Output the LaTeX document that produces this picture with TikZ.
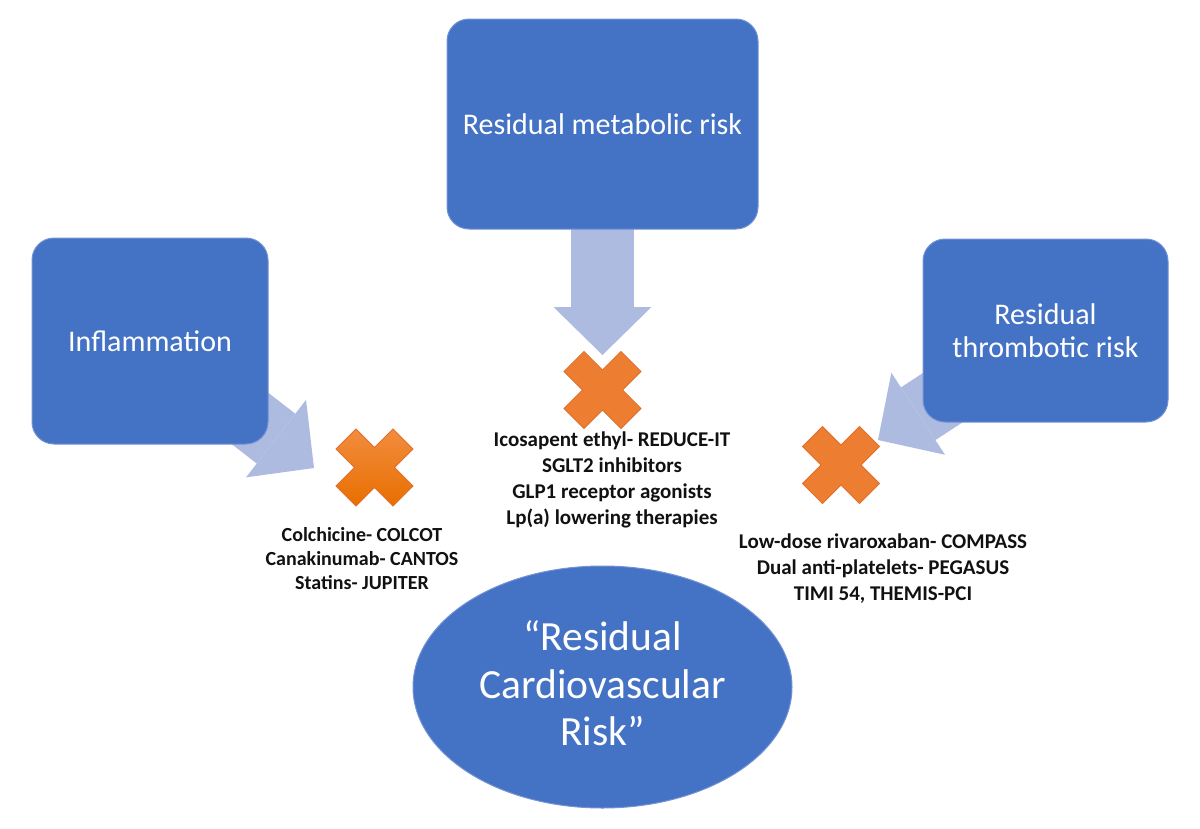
\documentclass[tikz,border=0pt]{standalone}
\usepackage{fontspec}
\setmainfont{Carlito}
\usetikzlibrary{arrows.meta,calc,shapes.geometric,backgrounds}
\definecolor{boxblue}{HTML}{4472C4}
\definecolor{boxedge}{HTML}{7393D3}
\definecolor{arrowlilac}{HTML}{AEBBE1}
\definecolor{crossorange}{HTML}{ED7D31}
\definecolor{crosslight}{HTML}{F28C3E}
\definecolor{crossdark}{HTML}{E86F00}
\definecolor{crossedge}{HTML}{DE7030}
\definecolor{textdark}{HTML}{111111}
\tikzset{
  riskbox/.style={
    rectangle, rounded corners=22pt, fill=boxblue, draw=boxedge, line width=1pt,
    align=center, text=white, font=\fontsize{30}{33}\selectfont
  },
  riskoval/.style={
    ellipse, fill=boxblue, draw=boxedge, line width=1pt, inner sep=0pt,
    minimum width=379pt, minimum height=242pt,
    align=center, text=white, font=\fontsize{41.5}{47.5}\selectfont
  },
  crossmark/.style={rectangle, minimum size=77pt, inner sep=0pt},
  trials/.style={align=center, text=textdark, font=\bfseries\fontsize{21}{26}\selectfont},
  blockarrow/.style={
    draw=arrowlilac, line width=63pt,
    -{Triangle[length=48pt,width=98pt,line width=0pt]}
  }
}
\newcommand{\xshape}[2]{
  \filldraw[#2, draw=crossedge, line width=0.8pt, shift={(#1.center)}]
    (-18.5,38.5) -- (0,20) -- (18.5,38.5) -- (38.5,18.5) -- (20,0) -- (38.5,-18.5)
    -- (18.5,-38.5) -- (0,-20) -- (-18.5,-38.5) -- (-38.5,-18.5) -- (-20,0) -- (-38.5,18.5) -- cycle;
}

\begin{document}
\begin{tikzpicture}[x=1pt,y=-1pt]
\useasboundingbox (0,0) rectangle (1200,828);
% risk boxes
\node[riskbox, minimum width=311pt, minimum height=210pt] (metab) at (602.5,124) {Residual metabolic risk};
\node[riskbox, minimum width=236pt, minimum height=206pt] (infl) at (150,341) {Inflammation};
\node[riskbox, minimum width=245pt, minimum height=183pt] (thromb) at (1045.5,330.5) {Residual\\thrombotic risk};
\node[riskoval] (cvrisk) at (602.5,687) {};
\node[text=white, align=center, font=\fontsize{41.5}{47.5}\selectfont] (cvtext) at (602.5,683.5) {“Residual\\Cardiovascular\\Risk”};
% crosses
\node[crossmark] (crossM) at (602.5,390) {};
\node[crossmark] (crossL) at (374.5,467.5) {};
\node[crossmark] (crossR) at (841,465) {};
\xshape{crossM}{fill=crossorange}
\xshape{crossL}{top color=crosslight, bottom color=crossdark}
\xshape{crossR}{fill=crossorange}
% arrow tips
\coordinate (tipM) at (602.5,355);
\coordinate (tipL) at (314,468);
\coordinate (tipR) at (878,440);
\begin{scope}[on background layer]
\draw[blockarrow] (metab.center) -- (tipM);
\draw[blockarrow] (infl.center) -- (tipL);
\draw[blockarrow] (thromb.center) -- (tipR);
\end{scope}
% trial labels
\node[trials] (labM) at (612,480) {Icosapent ethyl- REDUCE-IT\\SGLT2 inhibitors\\GLP1 receptor agonists\\Lp(a) lowering therapies};
\node[trials, font=\bfseries\fontsize{20}{24}\selectfont] (labL) at (362,558.5) {Colchicine- COLCOT\\Canakinumab- CANTOS\\Statins- JUPITER};
\node[trials] (labR) at (883,569) {Low-dose rivaroxaban- COMPASS\\Dual anti-platelets- PEGASUS\\TIMI 54, THEMIS-PCI};
\end{tikzpicture}
\end{document}
